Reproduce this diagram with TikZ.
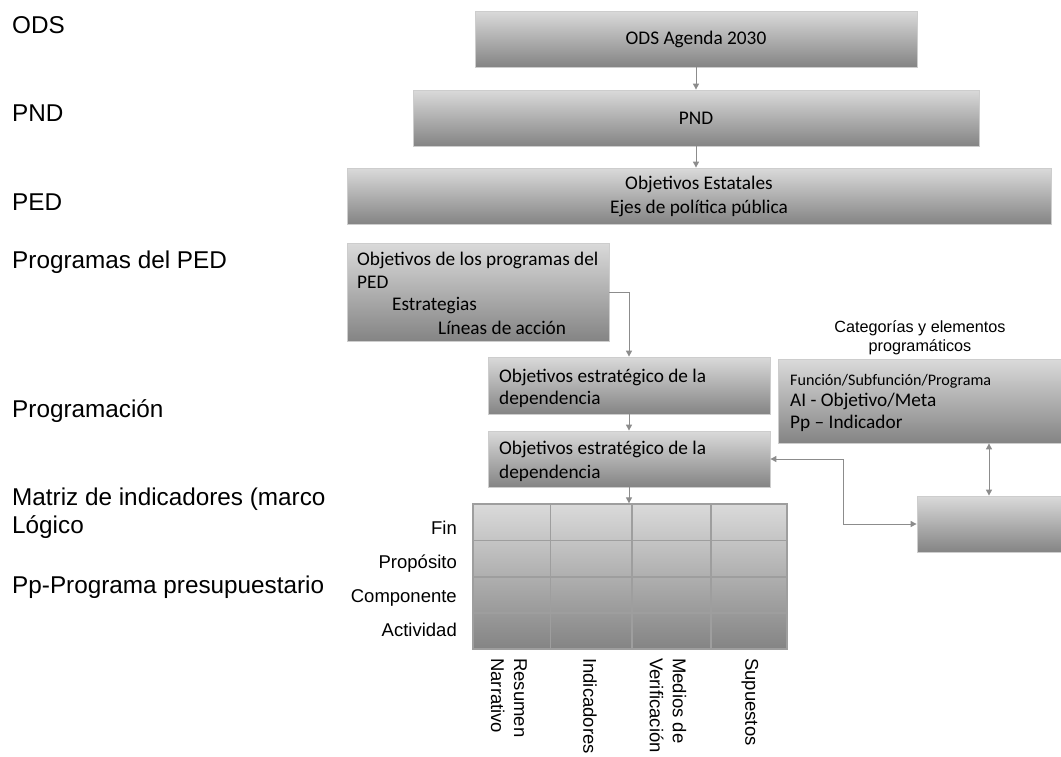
\documentclass[tikz,border=0pt]{standalone}
\usepackage{fontspec}
\setmainfont{Carlito}
\newfontfamily\arialf{Liberation Sans}
\usetikzlibrary{arrows.meta,calc}
\definecolor{gtop}{RGB}{218,218,218}
\definecolor{gbot}{RGB}{132,132,132}
\definecolor{lnc}{RGB}{140,140,140}
\definecolor{edgec}{RGB}{205,205,205}
\definecolor{gridc}{RGB}{158,158,158}
\begin{document}
\begin{tikzpicture}[x=1pt,y=-1pt,
  gbox/.style={draw=edgec, line width=0.8pt, top color=gtop, bottom color=gbot, inner sep=0pt, font=\fontsize{19.3}{24}\selectfont},
  btxt/.style={anchor=base west, inner sep=0pt, font=\fontsize{19.3}{23}\selectfont},
  arr/.style={draw=lnc, line width=1pt, -{Triangle[width=6pt,length=6pt]}},
  darr/.style={draw=lnc, line width=1pt, {Triangle[width=6pt,length=6pt]}-{Triangle[width=6pt,length=6pt]}},
  lbl/.style={font=\arialf\fontsize{24.3}{29}\selectfont, anchor=base west, inner sep=0pt},
  rowlbl/.style={font=\arialf\fontsize{18.5}{22}\selectfont, anchor=base east, inner sep=0pt},
  collbl/.style={font=\arialf\fontsize{18.5}{23}\selectfont, rotate=-90, anchor=west, align=left, inner sep=0pt},
  gridln/.style={draw=gridc, line width=1.3pt}
]
\useasboundingbox (0,0) rectangle (1061,756);

% left labels
\node[lbl] (lods) at (12,33.8) {ODS};
\node[lbl] (lpnd) at (12,121.8) {PND};
\node[lbl] (lped) at (12,210.8) {PED};
\node[lbl] (lprog) at (12,268.5) {Programas del PED};
\node[lbl] (lprogm) at (12,417.5) {Programación};
\node[lbl] (lmat) at (12,505.5) {Matriz de indicadores (marco};
\node[lbl] (llog) at (12,533.5) {Lógico};
\node[lbl] (lpp) at (12,593.5) {Pp-Programa presupuestario};

% top boxes
\node[gbox, minimum width=442pt, minimum height=56pt] (ods) at (696,39) {ODS Agenda 2030};
\node[gbox, minimum width=566pt, minimum height=56pt] (pnd) at (696,118) {PND};
\node[gbox, minimum width=704pt, minimum height=56pt, align=center] (ped) at (699,196) {Objetivos Estatales\\Ejes de política pública};

% programas box
\node[gbox, minimum width=262pt, minimum height=98pt] (prog) at (478,292) {};
\node[btxt] (p1) at (357,265.3) {Objetivos de los programas del};
\node[btxt] (p2) at (357,288.3) {PED};
\node[btxt] (p3) at (392,310.3) {Estrategias};
\node[btxt] (p4) at (438,334.3) {Líneas de acción};

% dependencia boxes
\node[gbox, minimum width=282pt, minimum height=57pt] (dep1) at (629,385.5) {};
\node[btxt] (d11) at (499,382.3) {Objetivos estratégico de la};
\node[btxt] (d12) at (499,404.3) {dependencia};
\node[gbox, minimum width=282pt, minimum height=56pt] (dep2) at (629,459) {};
\node[btxt] (d21) at (499,454.3) {Objetivos estratégico de la};
\node[btxt] (d22) at (499,478.3) {dependencia};

% categorias
\node[font=\arialf\fontsize{16.2}{19.5}\selectfont, align=center, inner sep=0pt] (cattl) at (920,337.5) {Categorías y elementos\\programáticos};
\node[gbox, minimum width=283pt, minimum height=84pt] (cat) at (919.5,401) {};
\node[btxt, font=\fontsize{16.1}{19}\selectfont] (k1) at (790,385.3) {Función/Subfunción/Programa};
\node[btxt] (k2) at (790,406.3) {AI - Objetivo/Meta};
\node[btxt] (k3) at (790,428.3) {Pp – Indicador};

\node[gbox, minimum width=144pt, minimum height=56pt] (rbox) at (989,524) {};

% table
\node[draw=gridc, line width=1.3pt, top color=gtop, bottom color=gbot, minimum width=314pt, minimum height=145pt, inner sep=0pt] (tbl) at (630,576.5) {};
\foreach \xx in {550.5,632,711} \draw[gridln] (\xx,504) -- (\xx,649);
\foreach \yy in {540.5,577,613} \draw[gridln] (473,\yy) -- (787,\yy);

\node[rowlbl] (rfin) at (457,534.6) {Fin};
\node[rowlbl] (rprop) at (457,568.6) {Propósito};
\node[rowlbl] (rcomp) at (457,602.6) {Componente};
\node[rowlbl] (ract) at (457,636.6) {Actividad};

\node[collbl] (c1) at (509,658) {Resumen\\Narrativo};
\node[collbl] (c2) at (590,658) {Indicadores};
\node[collbl] (c3) at (668,658) {Medios de\\Verificación};
\node[collbl] (c4) at (750,658) {Supuestos};

% connectors
\draw[arr] (ods.south) -- (pnd.north);
\draw[arr] (pnd.south) -- (pnd.south |- ped.north);
\draw[arr] (prog.east) -| (dep1.north);
\draw[arr] (dep1.south) -- (dep2.north);
\draw[arr] (dep2.south) -- (dep2.south |- tbl.north);
\coordinate (elb) at (843,524);
\draw[darr] (dep2.east) -| (elb) -- (rbox.west);
\draw[darr] (rbox.north) -- (rbox.north |- cat.south);
\end{tikzpicture}
\end{document}
